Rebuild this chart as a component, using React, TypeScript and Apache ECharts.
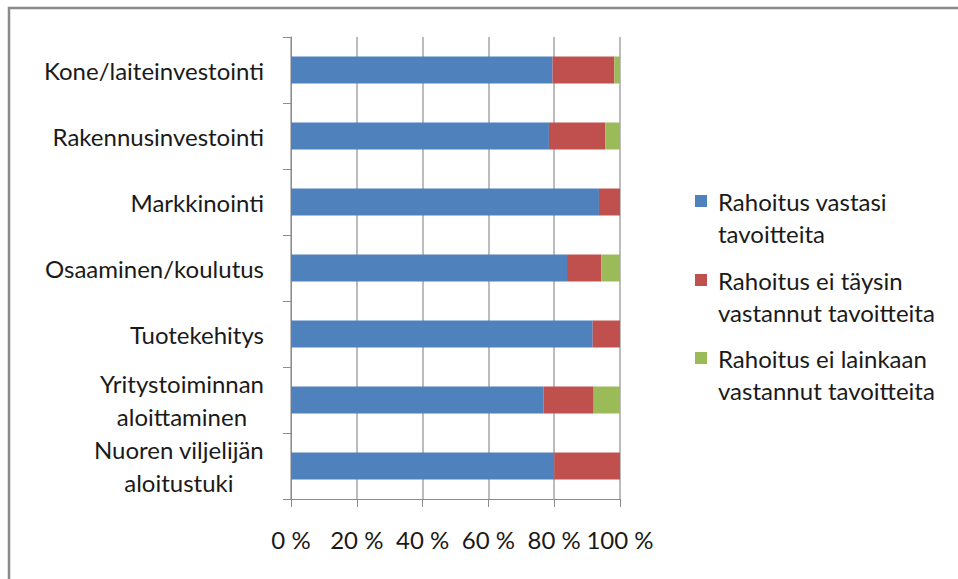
import React, { useEffect, useRef } from "react";
import * as echarts from "echarts";

const categories = [
  "Kone/laiteinvestointi",
  "Rakennusinvestointi",
  "Markkinointi",
  "Osaaminen/koulutus",
  "Tuotekehitys",
  "Yritystoiminnan\naloittaminen",
  "Nuoren viljelijän\naloitustuki",
];
const seriesNames = [
  "Rahoitus vastasi tavoitteita",
  "Rahoitus ei täysin vastannut tavoitteita",
  "Rahoitus ei lainkaan vastannut tavoitteita",
];
const legendLines = [
  ["Rahoitus vastasi", "tavoitteita"],
  ["Rahoitus ei täysin", "vastannut tavoitteita"],
  ["Rahoitus ei lainkaan", "vastannut tavoitteita"],
];
const vastasi = [79.5, 78.4, 93.6, 83.9, 91.7, 76.8, 80.0];
const eiTaysin = [18.8, 17.1, 6.4, 10.4, 8.3, 15.2, 20.0];
const eiLainkaan = [1.7, 4.5, 0, 5.7, 0, 8.0, 0];
const colors = ["#4F81BD", "#C0504D", "#9BBB59"];

const FONT = "Lato";
const FS = 24;

export default function App() {
  const ref = useRef<HTMLDivElement>(null);
  useEffect(() => {
    if (!ref.current) return;
    const chart = echarts.init(ref.current, undefined, { renderer: "svg" });
    const values = [vastasi, eiTaysin, eiLainkaan];
    const legendGraphics: any[] = [];
    const legendY = [201, 280, 358];
    legendLines.forEach((lines, i) => {
      legendGraphics.push({
        type: "rect",
        shape: { x: 695, y: legendY[i] - 6, width: 12, height: 12 },
        style: { fill: colors[i] },
      });
      lines.forEach((ln, j) => {
        legendGraphics.push({
          type: "text",
          x: 718,
          y: legendY[i] + j * 32.5,
          style: {
            text: ln,
            font: `${FS}px ${FONT}`,
            fill: "#1a1a1a",
            verticalAlign: "middle",
            align: "left",
          },
        });
      });
    });
    chart.setOption({
      animation: false,
      backgroundColor: "#ffffff",
      grid: { left: 291, right: 338, top: 37, bottom: 80 },
      xAxis: {
        type: "value",
        min: 0,
        max: 100,
        interval: 20,
        axisLine: { show: true, lineStyle: { color: "#8c8c8c", width: 1 } },
        axisTick: { show: true, length: 8, lineStyle: { color: "#8c8c8c" } },
        splitLine: { show: true, lineStyle: { color: "#a6a6a6", width: 1.5 } },
        axisLabel: {
          formatter: "{value} %",
          fontFamily: FONT,
          fontSize: FS,
          color: "#1a1a1a",
          margin: 28,
        },
      },
      yAxis: {
        type: "category",
        inverse: true,
        data: categories,
        axisLine: { show: true, lineStyle: { color: "#8c8c8c", width: 1 } },
        axisTick: { show: true, length: 8, lineStyle: { color: "#8c8c8c" } },
        axisLabel: {
          margin: 27,
          formatter: (v: string) =>
            v
              .split("\n")
              .map((s) => `{a|${s}}`)
              .join("\n"),
          rich: {
            a: {
              align: "center",
              fontFamily: FONT,
              fontSize: FS,
              color: "#1a1a1a",
              lineHeight: 33,
            },
          },
        },
      },
      series: seriesNames.map((name, i) => ({
        name,
        type: "bar",
        stack: "total",
        barWidth: 27,
        data: values[i],
        itemStyle: { color: colors[i] },
      })),
      graphic: [
        {
          type: "rect",
          shape: { x: 9, y: 8, width: 1200, height: 1200 },
          style: { fill: "none", stroke: "#8a8a8a", lineWidth: 2.5 },
          silent: true,
        },
        ...legendGraphics,
      ],
    });
    return () => chart.dispose();
  }, []);
  return (
    <div
      ref={ref}
      style={{ position: "fixed", left: 0, top: 0, width: 958, height: 579 }}
    />
  );
}
